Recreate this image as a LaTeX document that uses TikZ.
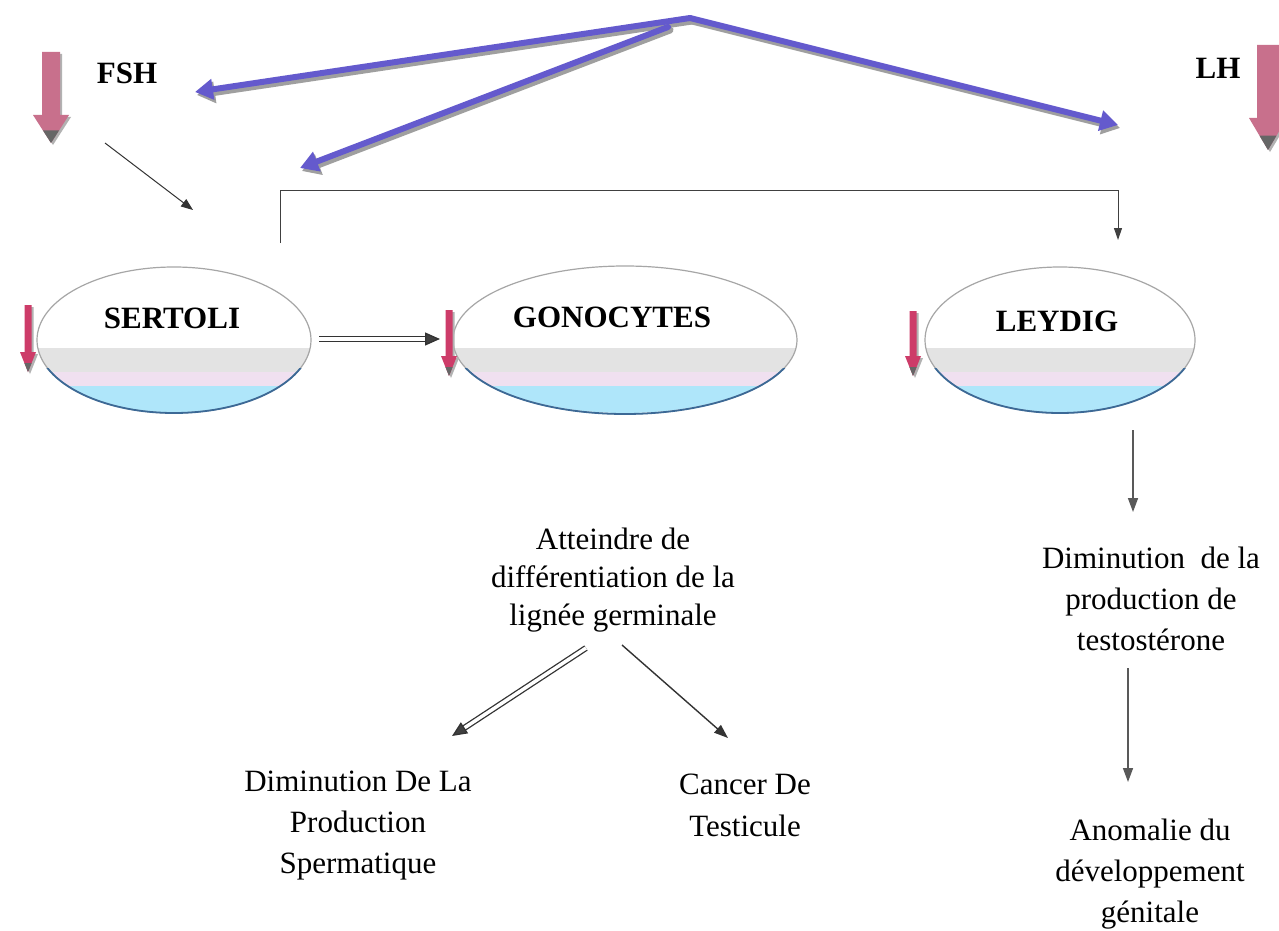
\documentclass[tikz,border=0pt]{standalone}
\usepackage{fontspec}
\setmainfont{Liberation Serif}
\usetikzlibrary{arrows.meta,shapes.geometric}
\definecolor{bluearr}{RGB}{100,90,205}
\definecolor{pinkbig}{RGB}{200,112,140}
\definecolor{pinksmall}{RGB}{205,60,105}
\definecolor{ellbot}{RGB}{175,230,250}
\definecolor{ellline}{RGB}{60,105,150}
\newcommand{\fatdown}[7]{%
  \fill[gray!60] (#1-#4+2,#2+2) -- (#1+#4+2,#2+2) -- (#1+#4+2,#3-#6+2) -- (#1+#5+2,#3-#6+2) -- (#1+2,#3+2) -- (#1-#5+2,#3-#6+2) -- (#1-#4+2,#3-#6+2) -- cycle;
  \fill[#7] (#1-#4,#2) -- (#1+#4,#2) -- (#1+#4,#3-#6) -- (#1+#5,#3-#6) -- (#1,#3) -- (#1-#5,#3-#6) -- (#1-#4,#3-#6) -- cycle;
  \fill[black!60] (#1-#5*0.45,#3-#6*0.45) -- (#1+#5*0.45,#3-#6*0.45) -- (#1,#3) -- cycle;}
\tikzset{
  cell/.style={ellipse, draw=gray!70, line width=1.2pt, inner sep=0pt},
  celltxt/.style={font=\bfseries\fontsize{31}{34}\selectfont},
  hormone/.style={font=\bfseries\fontsize{31}{34}\selectfont},
  bodytxt/.style={align=center, font=\fontsize{31}{41}\selectfont, inner sep=0pt},
  bluearrow/.style={line width=6pt, bluearr, line cap=round, -{Triangle[length=18pt,width=20pt]}},
  shadowarrow/.style={line width=7pt, gray!75, line cap=round, -{Triangle[length=18pt,width=21pt]}},
  thinarrow/.style={line width=1pt, black!80, -{Triangle[length=12pt,width=9pt]}},
  grayarrow/.style={line width=1.6pt, black!65, -{Triangle[length=14pt,width=10pt]}},
  dblarrow/.style={double=white, double distance=3.5pt, line width=1.3pt, draw=black!80, -{Triangle[length=15pt,width=13pt,fill=black!75]}}
}
\begin{document}
\begin{tikzpicture}[x=1pt,y=-1pt]
\useasboundingbox (0,0) rectangle (1279,931);
\fill[white] (0,0) rectangle (1279,931);

% cells with gradient bottoms
\foreach \cx/\rx in {174/137, 625/172, 1060/135}{
  \begin{scope}
    \clip (\cx,340) ellipse [x radius=\rx, y radius=73];
    \fill[gray!22] (\cx-\rx,348) rectangle (\cx+\rx,372);
    \fill[violet!12] (\cx-\rx,372) rectangle (\cx+\rx,386);
    \fill[ellbot] (\cx-\rx,386) rectangle (\cx+\rx,415);
  \end{scope}
}
\node[cell, minimum width=274pt, minimum height=146pt] (sertoli) at (174,340) {};
\node[cell, minimum width=344pt, minimum height=148pt] (gono) at (625,340) {};
\node[cell, minimum width=270pt, minimum height=146pt] (leydig) at (1060,340) {};
\foreach \cx/\rx/\ry in {174/137/73, 625/172/74, 1060/135/73}{
  \begin{scope}
    \clip (\cx-\rx-5,368) rectangle (\cx+\rx+5,420);
    \draw[ellline, line width=1.8pt] (\cx,340) ellipse [x radius=\rx, y radius=\ry];
  \end{scope}
}
\node[celltxt] (sertolit) at (172,318) {SERTOLI};
\node[celltxt] (gonot) at (612,317) {GONOCYTES};
\node[celltxt] (leydigt) at (1057,321) {LEYDIG};

% hormones
\node[hormone] (fsh) at (127,73) {FSH};
\node[hormone] (lh) at (1218,68) {LH};
\fatdown{51}{52}{143}{9}{18}{28}{pinkbig}
\fatdown{1268}{45}{150}{11}{19}{32}{pinkbig}
\fatdown{28}{305}{372}{3.5}{8}{20}{pinksmall}
\fatdown{449}{310}{376}{3.5}{8}{20}{pinksmall}
\fatdown{913}{311}{376}{3.5}{8}{20}{pinksmall}

% blue arrows from apex
\coordinate (apex) at (690,18);
\coordinate (apex2) at (668,27);
\coordinate (toFSH) at (195,92);
\coordinate (toSert) at (300,168);
\coordinate (toLH) at (1118,125);
\draw[shadowarrow] ([shift={(2,3)}]apex) -- ([shift={(2,3)}]toFSH);
\draw[shadowarrow] ([shift={(2,3)}]apex2) -- ([shift={(2,3)}]toSert);
\draw[shadowarrow] ([shift={(2,3)}]apex) -- ([shift={(2,3)}]toLH);
\draw[bluearrow] (apex) -- (toFSH);
\draw[bluearrow] (apex2) -- (toSert);
\draw[bluearrow] (apex) -- (toLH);

% thin FSH -> Sertoli
\coordinate (f1) at (105,143);
\coordinate (f2) at (193,210);
\draw[thinarrow] (f1) -- (f2);

% bracket Sertoli -> Leydig
\coordinate (b1) at (280,243);
\coordinate (b2) at (1118,240);
\draw[line width=1pt, black!75, -{Triangle[length=12pt,width=8pt]}] (b1) -- (280,190) -- (1118,190) -- (b2);

% Sertoli => Gonocytes
\coordinate (s1) at (319,339);
\coordinate (s2) at (440,339);
\draw[dblarrow] (s1) -- (s2);

% texts
\node[bodytxt, font=\fontsize{31}{38}\selectfont] (att) at (613,580) {Atteindre de\\différentiation de la\\lignée germinale};
\node[bodytxt] (dimsp) at (358,826) {Diminution De La\\Production\\Spermatique};
\node[bodytxt, font=\fontsize{31}{42}\selectfont] (cancer) at (745,805) {Cancer De\\Testicule};
\node[bodytxt] (dimtest) at (1151,599) {Diminution~~de la\\production de\\testostérone};
\node[bodytxt] (anom) at (1150,874) {Anomalie du\\développement\\génitale};

% lower arrows
\coordinate (l1) at (1133,430);
\coordinate (l2) at (1133,512);
\draw[grayarrow] (l1) -- (l2);
\coordinate (l3) at (1128,668);
\coordinate (l4) at (1128,782);
\draw[grayarrow] (l3) -- (l4);
\coordinate (g1) at (586,648);
\coordinate (g2) at (452,736);
\draw[dblarrow] (g1) -- (g2);
\coordinate (g3) at (622,645);
\coordinate (g4) at (728,738);
\draw[line width=1.4pt, black!80, -{Triangle[length=14pt,width=10pt]}] (g3) -- (g4);
\end{tikzpicture}
\end{document}
